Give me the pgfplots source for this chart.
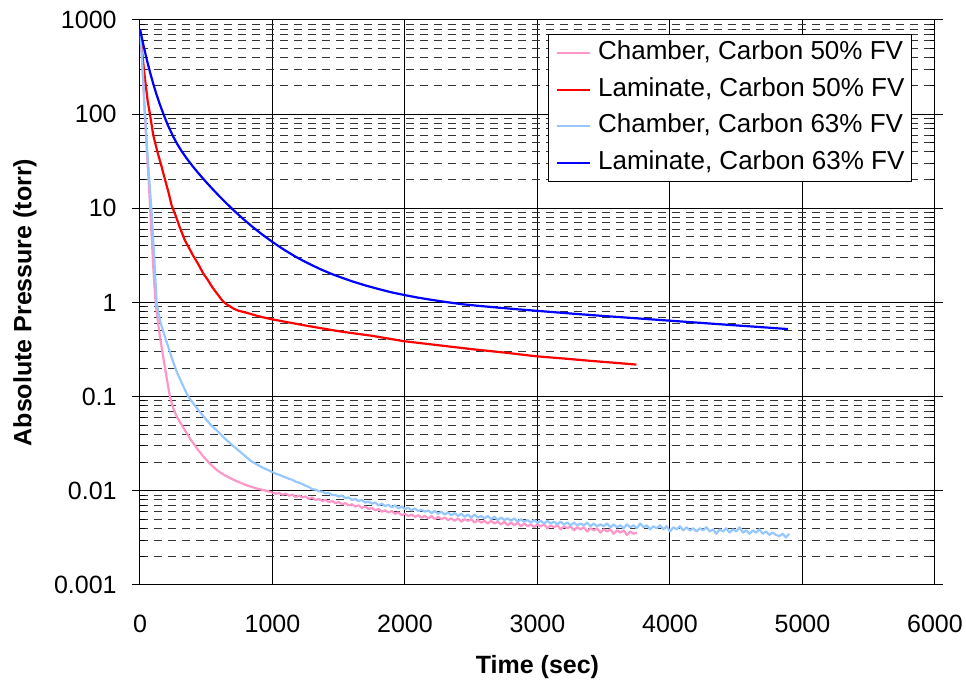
\documentclass[border=0pt]{standalone}
\usepackage{fontspec}
\setmainfont{Liberation Sans}
\usepackage{pgfplots}
\pgfplotsset{compat=1.18}
\definecolor{cpink}{RGB}{255,150,200}
\definecolor{clblue}{RGB}{150,200,255}
\definecolor{cred}{RGB}{255,0,0}
\definecolor{cblue}{RGB}{0,0,255}
\begin{document}
\begin{tikzpicture}
\useasboundingbox (-70pt,-49pt) rectangle (413pt,292.5pt);
\begin{axis}[
  scale only axis, width=397.5pt, height=282.5pt,
  xmin=0, xmax=6000, ymode=log, log basis y=10, ymin=0.001, ymax=1000,
  xtick={0,1000,2000,3000,4000,5000,6000},
  xticklabels={0,1000,2000,3000,4000,5000,6000},
  ytick={0.001,0.01,0.1,1,10,100,1000},
  yticklabels={0.001,0.01,0.1,1,10,100,1000},
  minor ytick={0.002,0.003,0.004,0.005,0.006,0.007,0.008,0.009,
    0.02,0.03,0.04,0.05,0.06,0.07,0.08,0.09,
    0.2,0.3,0.4,0.5,0.6,0.7,0.8,0.9,
    2,3,4,5,6,7,8,9,
    20,30,40,50,60,70,80,90,
    200,300,400,500,600,700,800,900},
  xmajorgrids, ymajorgrids, yminorgrids,
  major grid style={black, line width=0.5pt},
  minor grid style={black!80, line width=0.5pt, dash pattern=on 4pt off 3pt},
  axis line style={black, line width=0.5pt},
  tick align=inside,
  major tick length=-4pt, minor tick length=2.5pt,
  xtick style={draw=none},
  ytick style={black, line width=0.5pt},
  tick label style={font=\fontsize{12.5}{15}\selectfont},
  yticklabel style={inner sep=0pt, xshift=-11.5pt},
  xticklabel style={inner sep=0pt, yshift=-15pt},
  xlabel={Time (sec)},
  ylabel={Absolute Pressure (torr)},
  label style={font=\bfseries\fontsize{12.5}{15}\selectfont},
  xlabel style={at={([yshift=-41pt]axis description cs:0.5,0)}, anchor=center},
  ylabel style={at={([xshift=-57.5pt]axis description cs:0,0.5)}, anchor=center},
  legend style={at={(0.9711,0.975)}, anchor=north east, draw=black, line width=0.5pt,
    fill=white, font=\fontsize{13}{15}\selectfont, inner xsep=3.5pt, inner ysep=3pt,
    row sep=5.8pt,
    nodes={inner sep=0pt, text height=9.5pt, text depth=3pt},
    /tikz/every odd column/.append style={column sep=3.5pt}},
  legend cell align=left,
  legend image code/.code={\draw[#1, line width=1.1pt] (0pt,0pt) -- (16.5pt,0pt);},
  every axis plot/.append style={line width=1.1pt, line join=round},
]
% Chamber, Carbon 50% FV
\addplot[cpink] coordinates {
(0,800) (10,500) (20,280) (33,120) (50,45) (70,15) (88,5) (105,1.8) (118,1.0)
(135,0.631) (150,0.437) (163,0.339) (180,0.240) (200,0.162) (226,0.1)
(250,0.0759) (280,0.0603) (310,0.0513) (339,0.044) (380,0.0355) (430,0.0282)
(475,0.0234) (528,0.0194) (580,0.0166) (640,0.0146) (716,0.0129) (800,0.0115)
(880,0.0106) (955,0.0100) (1000,0.0096)
};
\addlegendentry{Chamber, Carbon 50\% FV}
\addplot[cpink, forget plot] coordinates {
(1000,0.0096) (1025,0.0093) (1050,0.0095) (1075,0.0091) (1100,0.0093) (1125,0.0089)
(1150,0.0091) (1175,0.0086) (1200,0.0089) (1225,0.0085) (1250,0.0087) (1275,0.0082)
(1300,0.0085) (1325,0.0080) (1350,0.0082) (1375,0.0078) (1400,0.0080) (1425,0.0076)
(1450,0.0078) (1475,0.0074) (1500,0.0076) (1525,0.0072) (1550,0.0074) (1575,0.0070)
(1600,0.0072) (1625,0.0068) (1650,0.0070) (1675,0.0066) (1700,0.0068) (1725,0.0064)
(1750,0.0066) (1775,0.0062) (1800,0.0064) (1825,0.0060) (1850,0.0062) (1875,0.0059)
(1900,0.0061) (1925,0.0057) (1950,0.0059) (1975,0.0055) (2000,0.0057) (2025,0.0054)
(2050,0.0056) (2075,0.0053) (2100,0.0055) (2125,0.0052) (2150,0.0054) (2175,0.0051)
(2200,0.0054) (2225,0.0050) (2250,0.0053) (2275,0.0050) (2300,0.0052) (2325,0.0049)
(2350,0.0051) (2375,0.0048) (2400,0.0051) (2425,0.0047) (2450,0.0050) (2475,0.0048)
(2500,0.0050) (2525,0.0046) (2550,0.0049) (2575,0.0046) (2600,0.0048) (2625,0.0045)
(2650,0.0048) (2675,0.0045) (2700,0.0047) (2725,0.0044) (2750,0.0047) (2775,0.0043)
(2800,0.0046) (2825,0.0043) (2850,0.0046) (2875,0.0042) (2900,0.0045) (2925,0.0042)
(2950,0.0044) (2975,0.0041) (3000,0.0044) (3025,0.0042) (3050,0.0044) (3075,0.0040)
(3100,0.0043) (3125,0.0041) (3150,0.0043) (3175,0.0039) (3200,0.0042) (3225,0.0040)
(3250,0.0042) (3275,0.0038) (3300,0.0041) (3325,0.0039) (3350,0.0041) (3375,0.0037)
(3400,0.0040) (3425,0.0038) (3450,0.0040) (3475,0.0036) (3500,0.0039) (3525,0.0037)
(3550,0.0039) (3575,0.0035) (3600,0.0038) (3625,0.0036) (3650,0.0038) (3675,0.0034)
(3700,0.0037) (3725,0.0035) (3750,0.0036)
};
% Laminate, Carbon 50% FV
\addplot[cred] coordinates {
(0,800) (15,479) (30,295) (45,195) (58,138) (75,100) (100,60) (133,39)
(160,28.8) (188,20.4) (215,14.8) (239,10.7) (270,8.3) (300,6.3) (339,4.57)
(370,3.8) (400,3.16) (440,2.55) (477,2.04) (510,1.75) (545,1.46) (580,1.25)
(616,1.07) (640,0.99) (660,0.944) (685,0.90) (706,0.861) (740,0.82) (780,0.794)
(830,0.76) (880,0.724) (940,0.69) (1000,0.661) (1250,0.569) (1500,0.495)
(1750,0.443) (1988,0.389) (2250,0.352) (2500,0.320) (2750,0.294) (2983,0.269)
(3200,0.254) (3400,0.240) (3600,0.228) (3747,0.219)
};
\addlegendentry{Laminate, Carbon 50\% FV}
% Chamber, Carbon 63% FV
\addplot[clblue] coordinates {
(0,800) (10,520) (20,300) (33,138) (50,52) (70,20) (88,9) (105,3.5) (118,1.6)
(126,1.0) (137,0.8) (150,0.65) (165,0.55) (180,0.47) (196,0.40) (213,0.34)
(245,0.245) (280,0.18) (320,0.135) (364,0.1) (415,0.08) (470,0.064) (535,0.05)
(578,0.044) (640,0.036) (703,0.030) (770,0.025) (842,0.0205) (920,0.0178)
(1000,0.0158)
};
\addlegendentry{Chamber, Carbon 63\% FV}
\addplot[clblue, forget plot] coordinates {
(1000,0.0158) (1025,0.0152) (1050,0.0148) (1075,0.0143) (1100,0.0139) (1125,0.0134)
(1150,0.0131) (1175,0.0125) (1200,0.0122) (1225,0.0118) (1250,0.0113) (1275,0.0110)
(1300,0.0104) (1325,0.0103) (1350,0.0099) (1375,0.0098) (1400,0.0094) (1425,0.0095)
(1450,0.0090) (1475,0.0090) (1500,0.0087) (1525,0.0089) (1550,0.0084) (1575,0.0085)
(1600,0.0080) (1625,0.0082) (1650,0.0078) (1675,0.0080) (1700,0.0075) (1725,0.0077)
(1750,0.0073) (1775,0.0075) (1800,0.0070) (1825,0.0073) (1850,0.0069) (1875,0.0071)
(1900,0.0067) (1925,0.0070) (1950,0.0065) (1975,0.0068) (2000,0.0064) (2025,0.0066)
(2050,0.0062) (2075,0.0065) (2100,0.0061) (2125,0.0063) (2150,0.0060) (2175,0.0062)
(2200,0.0058) (2225,0.0061) (2250,0.0057) (2275,0.0060) (2300,0.0056) (2325,0.0059)
(2350,0.0055) (2375,0.0058) (2400,0.0054) (2425,0.0057) (2450,0.0053) (2475,0.0056)
(2500,0.0052) (2525,0.0056) (2550,0.0052) (2575,0.0054) (2600,0.0051) (2625,0.0054)
(2650,0.0050) (2675,0.0053) (2700,0.0049) (2725,0.0052) (2750,0.0049) (2775,0.0051)
(2800,0.0048) (2825,0.0051) (2850,0.0047) (2875,0.0050) (2900,0.0047) (2925,0.0049)
(2950,0.0046) (2975,0.0049) (3000,0.0046) (3025,0.0048) (3050,0.0045) (3075,0.0048)
(3100,0.0045) (3125,0.0047) (3150,0.0044) (3175,0.0047) (3200,0.0044) (3225,0.0046)
(3250,0.0043) (3275,0.0046) (3300,0.0043) (3325,0.0045) (3350,0.0043) (3375,0.0046)
(3400,0.0042) (3425,0.0045) (3450,0.0042) (3475,0.0044) (3500,0.0042) (3525,0.0045)
(3550,0.0041) (3575,0.0044) (3600,0.0041) (3625,0.0043) (3650,0.0040) (3675,0.0044)
(3700,0.0041) (3725,0.0043) (3750,0.0040) (3775,0.0045) (3800,0.0041) (3825,0.0043)
(3850,0.0039) (3875,0.0042) (3900,0.0040) (3925,0.0043) (3950,0.0039) (3975,0.0042)
(4000,0.0037) (4025,0.0041) (4050,0.0039) (4075,0.0042) (4100,0.0038) (4125,0.0041)
(4150,0.0038) (4175,0.0040) (4200,0.0037) (4225,0.0040) (4250,0.0038) (4275,0.0041)
(4300,0.0037) (4325,0.0039) (4350,0.0035) (4375,0.0039) (4400,0.0037) (4425,0.0040)
(4450,0.0036) (4475,0.0039) (4500,0.0037) (4525,0.0041) (4550,0.0036) (4575,0.0038)
(4600,0.0035) (4625,0.0038) (4650,0.0036) (4675,0.0039) (4700,0.0035) (4725,0.0037)
(4750,0.0034) (4775,0.0036) (4800,0.0034) (4825,0.0033) (4850,0.0035) (4875,0.0032)
(4900,0.0035)
};
% Laminate, Carbon 63% FV
\addplot[cblue] coordinates {
(0,800) (25,548) (50,387) (75,281) (100,210) (125,161) (150,127) (176,101)
(210,76.6) (250,58.1) (280,48.4) (314,40.5) (355,33.5) (400,27.7) (450,22.8)
(503,18.75) (550,15.9) (600,13.4) (650,11.4) (703,9.64) (775,7.80) (850,6.34)
(925,5.24) (1000,4.39) (1080,3.69) (1168,3.10) (1230,2.78) (1300,2.48)
(1370,2.23) (1450,2.00) (1520,1.84) (1600,1.68) (1700,1.52) (1800,1.39)
(1900,1.28) (2000,1.197) (2100,1.125) (2200,1.067) (2300,1.016) (2435,0.957)
(2550,0.923) (2700,0.883) (2850,0.847) (3000,0.815) (3250,0.764) (3500,0.719)
(3750,0.679) (4000,0.641) (4250,0.605) (4500,0.571) (4700,0.546) (4890,0.522)
};
\addlegendentry{Laminate, Carbon 63\% FV}
\end{axis}
\end{tikzpicture}
\end{document}
